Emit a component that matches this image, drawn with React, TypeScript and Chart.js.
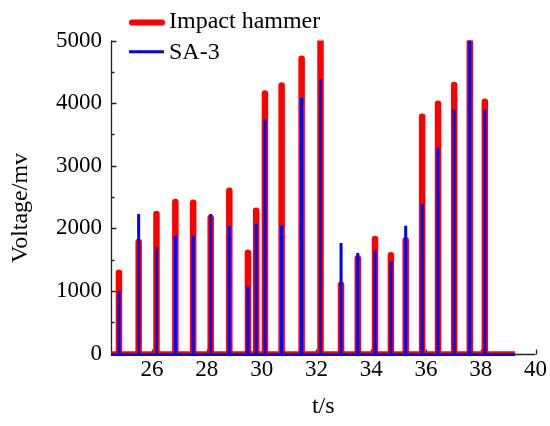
import React, { useEffect, useRef } from 'react';
import { Chart, registerables } from 'chart.js';

Chart.register(...registerables);

// ---- data ----
const pulseTimes = [24.79, 25.51, 26.16, 26.85, 27.5, 28.14, 28.82, 29.5, 29.8, 30.12, 30.73, 31.46, 32.15, 32.9, 33.51, 34.14, 34.72, 35.26, 35.86, 36.44, 37.03, 37.6, 38.15];
const hammerPeaks = [1290, 1780, 2230, 2420, 2410, 2165, 2600, 1610, 2280, 4155, 4280, 4710, 5200, 1100, 1520, 1830, 1570, 1810, 3780, 3990, 4290, 5300, 4020];
const sa3Peaks = [1005, 2230, 1700, 1885, 1885, 2230, 2045, 1070, 2070, 3740, 2045, 4085, 4390, 1765, 1605, 1645, 1470, 2040, 2390, 3285, 3895, 5200, 3895];
const recordStart = 24.5;
const recordEnd = 39.25;
const hammerBaseline = 20;
const sa3Baseline = -15;
const xTicks = [26, 28, 30, 32, 34, 36, 38, 40];
const yTicks = [0, 1000, 2000, 3000, 4000, 5000];
const yMinorTicks = [500, 1500, 2500, 3500, 4500];
const seriesLabels = ['Impact hammer', 'SA-3'];
const xTitle = 't/s';
const yTitle = 'Voltage/mv';

const FONT = "'Liberation Serif', 'Times New Roman', serif";
const RED = '#ff0000';
const BLUE = '#0000ff';

function pulseSeries(times: number[], peaks: number[], base: number) {
  const pts: { x: number; y: number }[] = [{ x: recordStart, y: base }];
  times.forEach((t, i) => {
    pts.push({ x: t, y: base }, { x: t, y: peaks[i] }, { x: t, y: base });
  });
  pts.push({ x: recordEnd, y: base });
  return pts;
}

const axesPlugin = {
  id: 'customAxes',
  beforeDatasetsDraw(chart: any) {
    const { ctx, chartArea, scales } = chart;
    const xs = scales.x;
    const ys = scales.y;
    ctx.save();
    ctx.strokeStyle = '#222';
    ctx.lineWidth = 1.3;
    const left = Math.round(chartArea.left) + 0.5;
    const bottom = ys.getPixelForValue(0) + 1;
    ctx.beginPath();
    ctx.moveTo(left, ys.getPixelForValue(5000));
    ctx.lineTo(left, bottom);
    ctx.lineTo(xs.getPixelForValue(40), bottom);
    ctx.stroke();
    ctx.beginPath();
    yTicks.forEach((v) => {
      const y = Math.round(ys.getPixelForValue(v)) + 0.5;
      ctx.moveTo(left, y);
      ctx.lineTo(left + 5, y);
    });
    yMinorTicks.forEach((v) => {
      const y = Math.round(ys.getPixelForValue(v)) + 0.5;
      ctx.moveTo(left, y);
      ctx.lineTo(left + 3, y);
    });
    xTicks.forEach((v) => {
      const x = Math.round(xs.getPixelForValue(v)) + 0.5;
      ctx.moveTo(x, bottom);
      ctx.lineTo(x, bottom - 5);
    });
    ctx.stroke();
    ctx.restore();
  },
  afterDraw(chart: any) {
    const { ctx, chartArea } = chart;
    ctx.save();
    ctx.fillStyle = '#000';
    // axis titles
    ctx.font = `24px ${FONT}`;
    ctx.textAlign = 'center';
    ctx.textBaseline = 'alphabetic';
    ctx.fillText(xTitle, (chartArea.left + chartArea.right) / 2, 413);
    ctx.save();
    ctx.translate(27, 208);
    ctx.rotate(-Math.PI / 2);
    ctx.fillText(yTitle, 0, 0);
    ctx.restore();
    // legend
    const ds = chart.data.datasets;
    const rows = [
      { y: 22.5, base: 27.5, width: 6, cap: 'round', x0: 132, x1: 162 },
      { y: 51.7, base: 59.3, width: 3, cap: 'butt', x0: 129, x1: 164 },
    ];
    rows.forEach((r, i) => {
      ctx.strokeStyle = ds[i].borderColor;
      ctx.lineWidth = r.width;
      ctx.lineCap = r.cap;
      ctx.beginPath();
      ctx.moveTo(r.x0, r.y);
      ctx.lineTo(r.x1, r.y);
      ctx.stroke();
      ctx.textAlign = 'left';
      ctx.fillStyle = '#000';
      ctx.fillText(ds[i].label, 169, r.base);
    });
    ctx.restore();
  },
};

export default function App() {
  const ref = useRef<HTMLCanvasElement>(null);
  useEffect(() => {
    if (!ref.current) return;
    const tickFont = { family: FONT, size: 23 };
    const chart = new Chart(ref.current, {
      type: 'line',
      data: {
        datasets: [
          {
            label: seriesLabels[0],
            data: pulseSeries(pulseTimes, hammerPeaks, hammerBaseline),
            borderColor: RED,
            backgroundColor: RED,
            borderWidth: 2,
            borderJoinStyle: 'round',
            borderCapStyle: 'butt',
            pointRadius: 0,
            tension: 0,
            fill: false,
            order: 2,
            clip: { left: 0, top: 0, right: 0, bottom: 6 },
            segment: {
              borderWidth: (c: any) => (Math.abs(c.p0.x - c.p1.x) < 0.01 ? 6.5 : 2),
            },
          } as any,
          {
            label: seriesLabels[1],
            data: pulseSeries(pulseTimes, sa3Peaks, sa3Baseline),
            borderColor: BLUE,
            backgroundColor: BLUE,
            borderWidth: 3,
            borderJoinStyle: 'bevel',
            borderCapStyle: 'butt',
            pointRadius: 0,
            tension: 0,
            fill: false,
            order: 1,
            clip: { left: 0, top: 0, right: 0, bottom: 6 },
          } as any,
        ],
      },
      options: {
        animation: false,
        responsive: false,
        devicePixelRatio: 1,
        layout: { padding: { top: 40.5, right: 12, bottom: 0, left: 0 } },
        plugins: { legend: { display: false }, tooltip: { enabled: false } },
        scales: {
          x: {
            type: 'linear',
            min: 24.5,
            max: 40,
            afterBuildTicks: (s: any) => {
              s.ticks = xTicks.map((v) => ({ value: v }));
            },
            afterFit: (s: any) => {
              s.height = 72.5;
            },
            ticks: { font: tickFont, color: '#000', padding: 3, maxRotation: 0, autoSkip: false, callback: (v: any) => String(v) },
            grid: { display: false, drawTicks: false },
            border: { display: false },
          },
          y: {
            type: 'linear',
            min: 0,
            max: 5000,
            afterBuildTicks: (s: any) => {
              s.ticks = yTicks.map((v) => ({ value: v }));
            },
            afterFit: (s: any) => {
              s.width = 111;
            },
            ticks: { font: tickFont, color: '#000', padding: 9, callback: (v: any) => String(v) },
            grid: { display: false, drawTicks: false },
            border: { display: false },
          },
        },
      } as any,
      plugins: [axesPlugin],
    });
    return () => chart.destroy();
  }, []);
  return (
    <div style={{ position: 'absolute', left: 0, top: 0, width: 550, height: 426, background: '#fff' }}>
      <canvas ref={ref} width={550} height={426} style={{ display: 'block' }} />
    </div>
  );
}
